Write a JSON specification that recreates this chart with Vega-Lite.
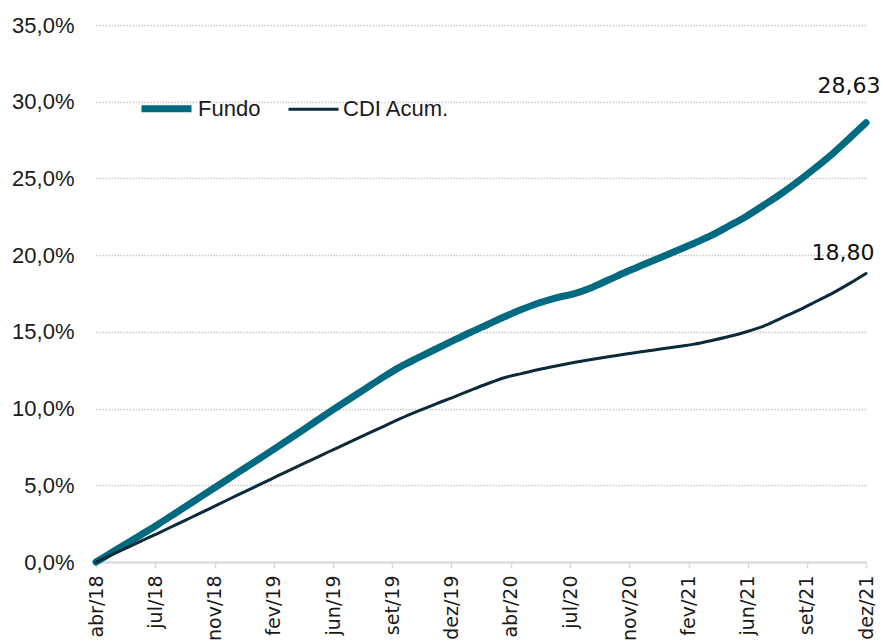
{
  "$schema": "https://vega.github.io/schema/vega-lite/v6.json",
  "width": 770,
  "height": 537,
  "autosize": {"type": "none"},
  "padding": {"left": 96, "top": 25, "right": 17, "bottom": 79},
  "background": "white",
  "config": {
    "view": {"stroke": null},
    "locale": {
      "number": {"decimal": ",", "thousands": ".", "grouping": [3], "currency": ["R$", ""]},
      "time": {
        "dateTime": "%A, %e de %B de %Y. %X",
        "date": "%d/%m/%Y",
        "time": "%H:%M:%S",
        "periods": ["AM", "PM"],
        "days": ["Domingo", "Segunda", "Terça", "Quarta", "Quinta", "Sexta", "Sábado"],
        "shortDays": ["Dom", "Seg", "Ter", "Qua", "Qui", "Sex", "Sáb"],
        "months": ["Janeiro", "Fevereiro", "Março", "Abril", "Maio", "Junho", "Julho", "Agosto", "Setembro", "Outubro", "Novembro", "Dezembro"],
        "shortMonths": ["jan", "fev", "mar", "abr", "mai", "jun", "jul", "ago", "set", "out", "nov", "dez"]
      }
    }
  },
  "data": {
    "values": [
      {"d": "2018-04-13", "s": "Fundo", "v": 0.00}, {"d": "2018-04-30", "s": "Fundo", "v": 0.38}, {"d": "2018-05-31", "s": "Fundo", "v": 1.08}, {"d": "2018-06-30", "s": "Fundo", "v": 1.75}, {"d": "2018-07-31", "s": "Fundo", "v": 2.45}, {"d": "2018-08-31", "s": "Fundo", "v": 3.19}, {"d": "2018-09-30", "s": "Fundo", "v": 3.91}, {"d": "2018-10-31", "s": "Fundo", "v": 4.66}, {"d": "2018-11-30", "s": "Fundo", "v": 5.38}, {"d": "2018-12-31", "s": "Fundo", "v": 6.13},
      {"d": "2019-01-31", "s": "Fundo", "v": 6.87}, {"d": "2019-02-28", "s": "Fundo", "v": 7.55}, {"d": "2019-03-31", "s": "Fundo", "v": 8.31}, {"d": "2019-04-30", "s": "Fundo", "v": 9.06}, {"d": "2019-05-31", "s": "Fundo", "v": 9.83}, {"d": "2019-06-30", "s": "Fundo", "v": 10.56}, {"d": "2019-07-31", "s": "Fundo", "v": 11.30}, {"d": "2019-08-31", "s": "Fundo", "v": 12.05}, {"d": "2019-09-30", "s": "Fundo", "v": 12.72}, {"d": "2019-10-31", "s": "Fundo", "v": 13.30}, {"d": "2019-11-30", "s": "Fundo", "v": 13.85}, {"d": "2019-12-31", "s": "Fundo", "v": 14.41},
      {"d": "2020-01-31", "s": "Fundo", "v": 14.96}, {"d": "2020-02-29", "s": "Fundo", "v": 15.45}, {"d": "2020-03-31", "s": "Fundo", "v": 15.98}, {"d": "2020-04-30", "s": "Fundo", "v": 16.45}, {"d": "2020-05-31", "s": "Fundo", "v": 16.88}, {"d": "2020-06-30", "s": "Fundo", "v": 17.22}, {"d": "2020-07-31", "s": "Fundo", "v": 17.48}, {"d": "2020-08-31", "s": "Fundo", "v": 17.88}, {"d": "2020-09-30", "s": "Fundo", "v": 18.38}, {"d": "2020-10-31", "s": "Fundo", "v": 18.90}, {"d": "2020-11-30", "s": "Fundo", "v": 19.37}, {"d": "2020-12-31", "s": "Fundo", "v": 19.85},
      {"d": "2021-01-31", "s": "Fundo", "v": 20.33}, {"d": "2021-02-28", "s": "Fundo", "v": 20.78}, {"d": "2021-03-31", "s": "Fundo", "v": 21.30}, {"d": "2021-04-30", "s": "Fundo", "v": 21.90}, {"d": "2021-05-31", "s": "Fundo", "v": 22.54}, {"d": "2021-06-30", "s": "Fundo", "v": 23.25}, {"d": "2021-07-31", "s": "Fundo", "v": 24.01}, {"d": "2021-08-31", "s": "Fundo", "v": 24.85}, {"d": "2021-09-30", "s": "Fundo", "v": 25.72}, {"d": "2021-10-31", "s": "Fundo", "v": 26.67}, {"d": "2021-11-30", "s": "Fundo", "v": 27.69}, {"d": "2021-12-27", "s": "Fundo", "v": 28.63},
      {"d": "2018-04-13", "s": "CDI Acum.", "v": 0.00}, {"d": "2018-04-30", "s": "CDI Acum.", "v": 0.29}, {"d": "2018-05-31", "s": "CDI Acum.", "v": 0.82}, {"d": "2018-06-30", "s": "CDI Acum.", "v": 1.34}, {"d": "2018-07-31", "s": "CDI Acum.", "v": 1.87}, {"d": "2018-08-31", "s": "CDI Acum.", "v": 2.42}, {"d": "2018-09-30", "s": "CDI Acum.", "v": 2.95}, {"d": "2018-10-31", "s": "CDI Acum.", "v": 3.50}, {"d": "2018-11-30", "s": "CDI Acum.", "v": 4.04}, {"d": "2018-12-31", "s": "CDI Acum.", "v": 4.59},
      {"d": "2019-01-31", "s": "CDI Acum.", "v": 5.14}, {"d": "2019-02-28", "s": "CDI Acum.", "v": 5.64}, {"d": "2019-03-31", "s": "CDI Acum.", "v": 6.19}, {"d": "2019-04-30", "s": "CDI Acum.", "v": 6.71}, {"d": "2019-05-31", "s": "CDI Acum.", "v": 7.25}, {"d": "2019-06-30", "s": "CDI Acum.", "v": 7.77}, {"d": "2019-07-31", "s": "CDI Acum.", "v": 8.30}, {"d": "2019-08-31", "s": "CDI Acum.", "v": 8.83}, {"d": "2019-09-30", "s": "CDI Acum.", "v": 9.34}, {"d": "2019-10-31", "s": "CDI Acum.", "v": 9.83}, {"d": "2019-11-30", "s": "CDI Acum.", "v": 10.28}, {"d": "2019-12-31", "s": "CDI Acum.", "v": 10.72},
      {"d": "2020-01-31", "s": "CDI Acum.", "v": 11.18}, {"d": "2020-02-29", "s": "CDI Acum.", "v": 11.60}, {"d": "2020-03-31", "s": "CDI Acum.", "v": 12.01}, {"d": "2020-04-30", "s": "CDI Acum.", "v": 12.28}, {"d": "2020-05-31", "s": "CDI Acum.", "v": 12.55}, {"d": "2020-06-30", "s": "CDI Acum.", "v": 12.78}, {"d": "2020-07-31", "s": "CDI Acum.", "v": 13.00}, {"d": "2020-08-31", "s": "CDI Acum.", "v": 13.20}, {"d": "2020-09-30", "s": "CDI Acum.", "v": 13.38}, {"d": "2020-10-31", "s": "CDI Acum.", "v": 13.55}, {"d": "2020-11-30", "s": "CDI Acum.", "v": 13.72}, {"d": "2020-12-31", "s": "CDI Acum.", "v": 13.88},
      {"d": "2021-01-31", "s": "CDI Acum.", "v": 14.05}, {"d": "2021-02-28", "s": "CDI Acum.", "v": 14.20}, {"d": "2021-03-31", "s": "CDI Acum.", "v": 14.44}, {"d": "2021-04-30", "s": "CDI Acum.", "v": 14.70}, {"d": "2021-05-31", "s": "CDI Acum.", "v": 15.01}, {"d": "2021-06-30", "s": "CDI Acum.", "v": 15.38}, {"d": "2021-07-31", "s": "CDI Acum.", "v": 15.90}, {"d": "2021-08-31", "s": "CDI Acum.", "v": 16.42}, {"d": "2021-09-30", "s": "CDI Acum.", "v": 16.98}, {"d": "2021-10-31", "s": "CDI Acum.", "v": 17.56}, {"d": "2021-11-30", "s": "CDI Acum.", "v": 18.19}, {"d": "2021-12-27", "s": "CDI Acum.", "v": 18.80}
    ]
  },
  "encoding": {
    "x": {
      "field": "d",
      "type": "temporal",
      "scale": {
        "type": "utc",
        "domain": [
          {"year": 2018, "month": 4, "date": 13, "utc": true},
          {"year": 2021, "month": 12, "date": 27, "utc": true}
        ]
      },
      "axis": {
        "title": null,
        "format": "%b/%y",
        "values": [
          {"year": 2018, "month": 4, "date": 13, "utc": true},
          {"year": 2018, "month": 7, "date": 26, "utc": true},
          {"year": 2018, "month": 11, "date": 8, "utc": true},
          {"year": 2019, "month": 2, "date": 20, "utc": true},
          {"year": 2019, "month": 6, "date": 4, "utc": true},
          {"year": 2019, "month": 9, "date": 16, "utc": true},
          {"year": 2019, "month": 12, "date": 29, "utc": true},
          {"year": 2020, "month": 4, "date": 11, "utc": true},
          {"year": 2020, "month": 7, "date": 25, "utc": true},
          {"year": 2020, "month": 11, "date": 6, "utc": true},
          {"year": 2021, "month": 2, "date": 18, "utc": true},
          {"year": 2021, "month": 6, "date": 2, "utc": true},
          {"year": 2021, "month": 9, "date": 14, "utc": true},
          {"year": 2021, "month": 12, "date": 27, "utc": true}
        ],
        "labelAngle": -90,
        "labelAlign": "right",
        "labelBaseline": "middle",
        "labelFont": "DejaVu Sans",
        "labelFontSize": 19,
        "labelColor": "#1a1a1a",
        "labelPadding": 7,
        "labelOverlap": false,
        "labelFlush": false,
        "grid": false,
        "domainColor": "#d9d9d9",
        "domainWidth": 2,
        "tickColor": "#d9d9d9",
        "tickWidth": 1.5,
        "tickSize": 6
      }
    },
    "y": {
      "field": "v",
      "type": "quantitative",
      "scale": {"domain": [0, 35], "nice": false, "zero": true},
      "axis": {
        "title": null,
        "values": [0, 5, 10, 15, 20, 25, 30, 35],
        "labelExpr": "format(datum.value, '.1f') + '%'",
        "labelFont": "Liberation Sans",
        "labelFontSize": 22,
        "labelColor": "#1a1a1a",
        "labelPadding": 22,
        "domain": false,
        "ticks": false,
        "grid": true,
        "gridColor": "#c8c8c8",
        "gridWidth": 1.4,
        "gridDash": [1.5, 1.5]
      }
    }
  },
  "layer": [
    {
      "mark": {"type": "line", "interpolate": "monotone", "strokeCap": "round", "strokeJoin": "round"},
      "encoding": {
        "color": {
          "field": "s",
          "type": "nominal",
          "sort": ["Fundo", "CDI Acum."],
          "scale": {"domain": ["Fundo", "CDI Acum."], "range": ["#006b80", "#0c2a38"]},
          "legend": {
            "title": null,
            "orient": "none",
            "legendX": 42,
            "legendY": 55,
            "direction": "horizontal",
            "symbolType": "stroke",
            "symbolSize": 2500,
            "labelFont": "Liberation Sans",
            "labelFontSize": 22,
            "labelColor": "#1a1a1a",
            "labelOffset": 3,
            "columnPadding": 21,
            "padding": 0
          }
        },
        "strokeWidth": {
          "field": "s",
          "type": "nominal",
          "sort": ["Fundo", "CDI Acum."],
          "scale": {"domain": ["Fundo", "CDI Acum."], "range": [7, 3]}
        }
      }
    },
    {
      "transform": [
        {"filter": "datum.s == 'Fundo'"},
        {"joinaggregate": [{"op": "max", "field": "d", "as": "dmax"}]},
        {"filter": "+toDate(datum.d) == +toDate(datum.dmax)"}
      ],
      "mark": {"type": "text", "font": "DejaVu Sans", "fontSize": 22, "color": "#111111", "align": "center", "baseline": "middle", "dx": -17, "dy": -37},
      "encoding": {
        "text": {"field": "v", "type": "quantitative", "format": ".2f"}
      }
    },
    {
      "transform": [
        {"filter": "datum.s == 'CDI Acum.'"},
        {"joinaggregate": [{"op": "max", "field": "d", "as": "dmax"}]},
        {"filter": "+toDate(datum.d) == +toDate(datum.dmax)"}
      ],
      "mark": {"type": "text", "font": "DejaVu Sans", "fontSize": 22, "color": "#111111", "align": "center", "baseline": "middle", "dx": -23, "dy": -21},
      "encoding": {
        "text": {"field": "v", "type": "quantitative", "format": ".2f"}
      }
    }
  ]
}
